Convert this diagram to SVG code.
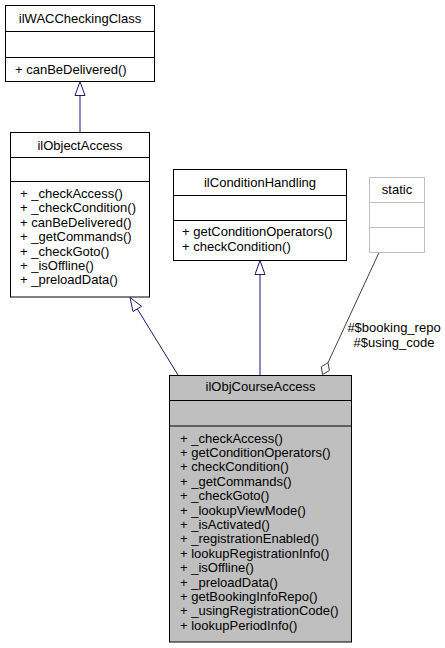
<svg xmlns="http://www.w3.org/2000/svg" width="445" height="648" viewBox="0 0 445 648">
<style>
text{font-family:"Liberation Sans",Arial,sans-serif;font-size:13px;fill:#000}
.t{text-anchor:middle}
.box{fill:#fff;stroke:#000;stroke-width:1}
.cur{fill:#bfbfbf;stroke:#000;stroke-width:1}
.lt{fill:#fff;stroke:#bfbfbf;stroke-width:1}
.div{stroke:#000;stroke-width:1}
.dl{stroke:#bfbfbf;stroke-width:1}
.inh{fill:none;stroke:#191970;stroke-width:1}
.head{fill:#fff;stroke:#191970;stroke-width:1}
.agg{fill:none;stroke:#404040;stroke-width:1}
.dia{fill:#fff;stroke:#404040;stroke-width:1}
</style>
<rect width="445" height="648" fill="#fff"/>
<g id="connectors">
<line class="inh" x1="80" y1="95.5" x2="80" y2="132"/>
<polygon class="head" points="80,81.5 75,95.5 85,95.5"/>
<line class="inh" x1="137.3" y1="308.9" x2="178" y2="375"/>
<polygon class="head" points="130,297.5 141.6,306.3 133,311.5"/>
<line class="inh" x1="260" y1="274.5" x2="260" y2="375"/>
<polygon class="head" points="260,260.5 255,274.5 265,274.5"/>
<line class="agg" x1="379" y1="252.5" x2="328" y2="362.7"/>
<polygon class="dia" points="322.5,374.5 329.4,370.5 328,362.7 321.3,366.7"/>
<text class="t" x="394" y="332">#$booking_repo</text>
<text class="t" x="394" y="347">#$using_code</text>
</g>
<g id="ilWACCheckingClass">
<rect class="box" x="5.5" y="5.5" width="149" height="76"/>
<line class="div" x1="5.5" y1="31.5" x2="154.5" y2="31.5"/>
<line class="div" x1="5.5" y1="57.5" x2="154.5" y2="57.5"/>
<text class="t" x="80" y="22.5">ilWACCheckingClass</text>
<text x="15" y="74">+ canBeDelivered()</text>
</g>
<g id="ilObjectAccess">
<rect class="box" x="10.5" y="132.5" width="139" height="164.5"/>
<line class="div" x1="10.5" y1="157.5" x2="149.5" y2="157.5"/>
<line class="div" x1="10.5" y1="181.5" x2="149.5" y2="181.5"/>
<text class="t" x="80" y="149.5">ilObjectAccess</text>
<text x="20" y="198">+ _checkAccess()</text>
<text x="20" y="212.4">+ _checkCondition()</text>
<text x="20" y="226.8">+ canBeDelivered()</text>
<text x="20" y="241.2">+ _getCommands()</text>
<text x="20" y="255.6">+ _checkGoto()</text>
<text x="20" y="270">+ _isOffline()</text>
<text x="20" y="284.4">+ _preloadData()</text>
</g>
<g id="ilConditionHandling">
<rect class="box" x="173.5" y="169.5" width="173" height="91"/>
<line class="div" x1="173.5" y1="195.5" x2="346.5" y2="195.5"/>
<line class="div" x1="173.5" y1="220.5" x2="346.5" y2="220.5"/>
<text class="t" x="260" y="186.5">ilConditionHandling</text>
<text x="182" y="236">+ getConditionOperators()</text>
<text x="182" y="250.5">+ checkCondition()</text>
</g>
<g id="static">
<rect class="lt" x="369.5" y="177.5" width="55" height="75"/>
<line class="dl" x1="369.5" y1="202.5" x2="424.5" y2="202.5"/>
<line class="dl" x1="369.5" y1="227.5" x2="424.5" y2="227.5"/>
<text class="t" x="397" y="193.5">static</text>
</g>
<g id="ilObjCourseAccess">
<rect class="cur" x="169.5" y="375.5" width="182" height="266.5"/>
<line class="div" x1="169.5" y1="400.5" x2="351.5" y2="400.5"/>
<line class="div" x1="169.5" y1="426" x2="351.5" y2="426"/>
<text class="t" x="260.5" y="390.5">ilObjCourseAccess</text>
<text x="180" y="442.5">+ _checkAccess()</text>
<text x="180" y="456.9">+ getConditionOperators()</text>
<text x="180" y="471.3">+ checkCondition()</text>
<text x="180" y="485.7">+ _getCommands()</text>
<text x="180" y="500.1">+ _checkGoto()</text>
<text x="180" y="514.5">+ _lookupViewMode()</text>
<text x="180" y="528.9">+ _isActivated()</text>
<text x="180" y="543.3">+ _registrationEnabled()</text>
<text x="180" y="557.7">+ lookupRegistrationInfo()</text>
<text x="180" y="572.1">+ _isOffline()</text>
<text x="180" y="586.5">+ _preloadData()</text>
<text x="180" y="600.9">+ getBookingInfoRepo()</text>
<text x="180" y="615.3">+ _usingRegistrationCode()</text>
<text x="180" y="629.7">+ lookupPeriodInfo()</text>
</g>
</svg>
